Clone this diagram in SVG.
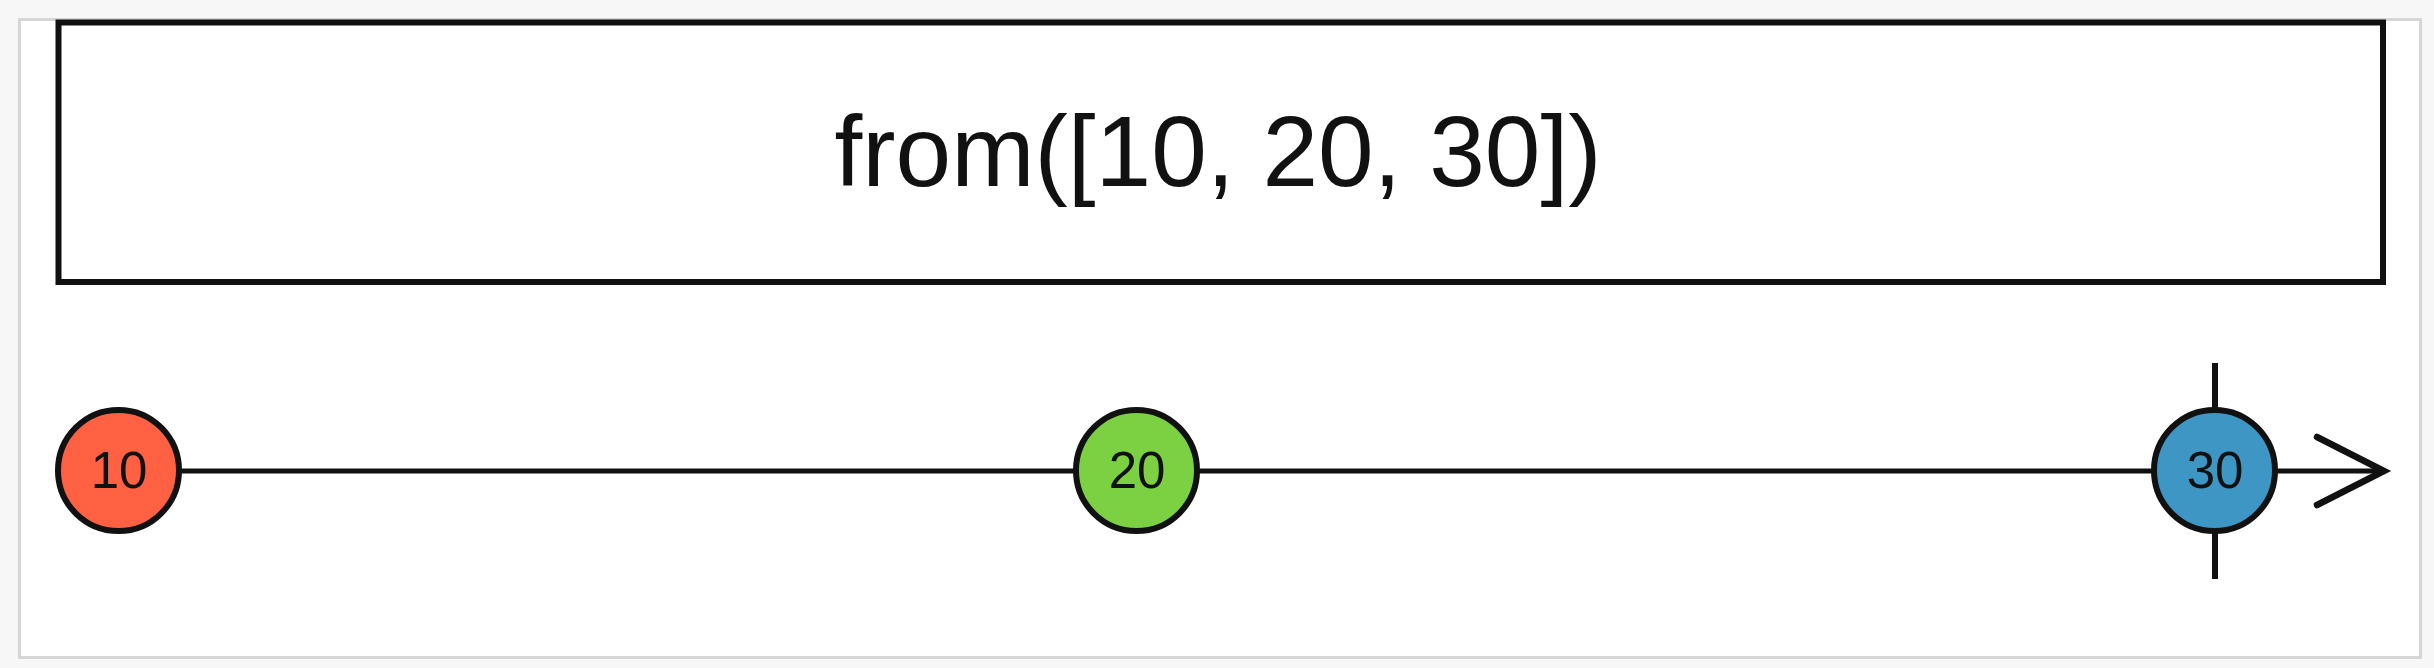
<svg xmlns="http://www.w3.org/2000/svg" width="2434" height="668" viewBox="0 0 2434 668">
  <defs>
    <style>
      .panel { fill: #ffffff; stroke: #d6d6d6; stroke-width: 3; }
      .op { fill: #ffffff; stroke: #111111; stroke-width: 6; }
      .optext { font-family: "Liberation Sans", Arial, sans-serif; font-size: 100px; fill: #111111; text-anchor: middle; }
      .line { stroke: #111111; stroke-width: 5; fill: none; stroke-linecap: round; }
      .arrow { stroke: #111111; stroke-width: 6.5; fill: none; stroke-linecap: round; stroke-linejoin: miter; }
      .tick { stroke: #111111; stroke-width: 6; fill: none; }
      .marble { stroke: #111111; stroke-width: 6; }
      .mtext { font-family: "Liberation Sans", Arial, sans-serif; font-size: 51px; fill: #111111; text-anchor: middle; }
    </style>
  </defs>
  <rect x="0" y="0" width="2434" height="668" fill="#f7f7f7"/>
  <rect class="panel" x="19.5" y="19.5" width="2401" height="638"/>

  <g id="operator">
    <rect class="op" x="58.5" y="22.5" width="2324.5" height="259.5"/>
    <text class="optext" x="1218" y="186">from([10, 20, 30])</text>
  </g>

  <g id="connectors">
    <line class="line" x1="118" y1="471" x2="2382" y2="471"/>
    <polyline class="arrow" points="2317,437 2384,471 2317,505"/>
    <line class="tick" x1="2215" y1="363" x2="2215" y2="579"/>
  </g>

  <g id="marble-10">
    <circle class="marble" cx="118.5" cy="470.5" r="60.5" fill="#ff6142"/>
    <text class="mtext" x="119" y="488">10</text>
  </g>
  <g id="marble-20">
    <circle class="marble" cx="1136.5" cy="470.5" r="60.5" fill="#7bd142"/>
    <text class="mtext" x="1137" y="488">20</text>
  </g>
  <g id="marble-30">
    <circle class="marble" cx="2214.5" cy="470.5" r="60.5" fill="#3d96c4"/>
    <text class="mtext" x="2215" y="488">30</text>
  </g>
</svg>
